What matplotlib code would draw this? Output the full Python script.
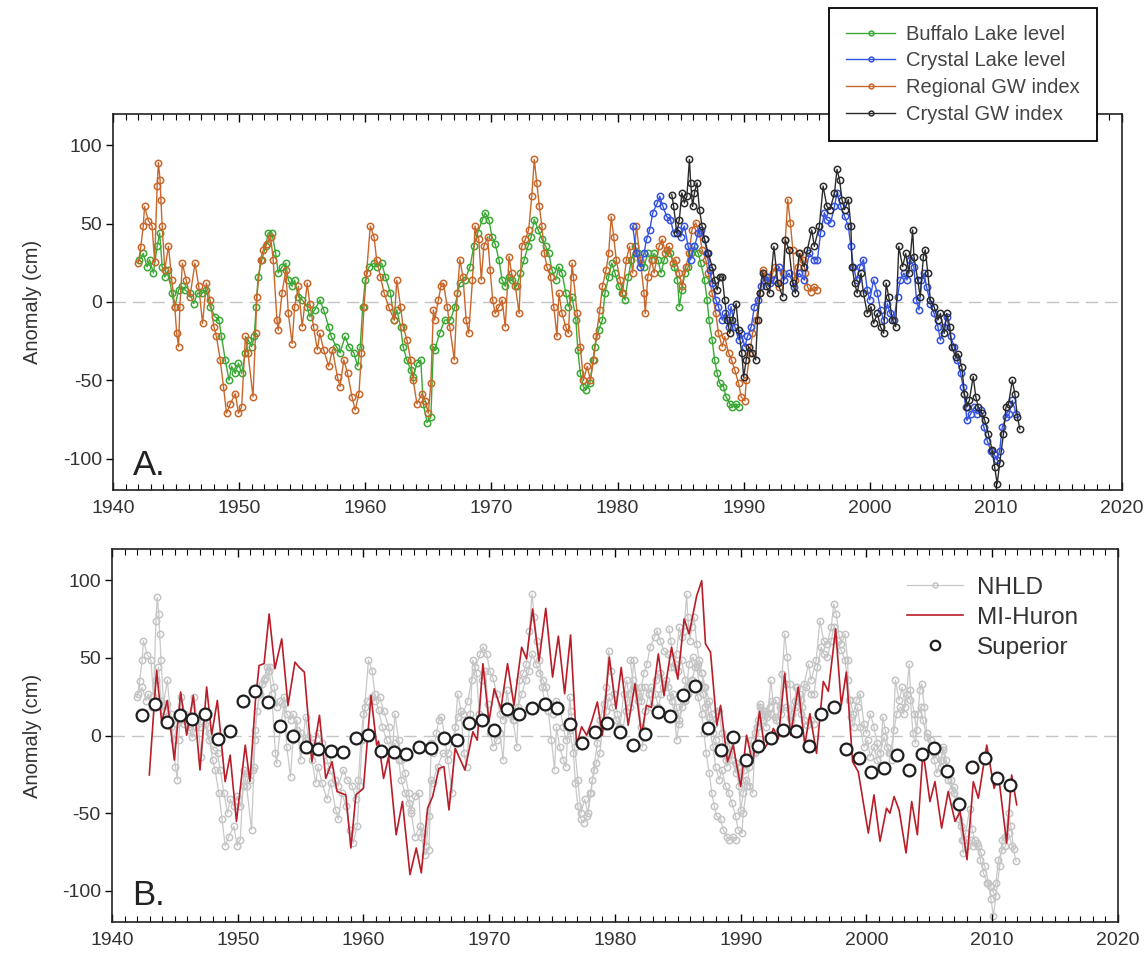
import numpy as np
import matplotlib
matplotlib.use("Agg")
import matplotlib.pyplot as plt
from matplotlib.ticker import MultipleLocator

plt.rcParams['font.family'] = ['Liberation Sans', 'DejaVu Sans']
plt.rcParams['axes.unicode_minus'] = False

# --- panel A series (cm anomaly) ---
buffalo_yr = [1942.1, 1942.4, 1942.7, 1942.9, 1943.2, 1943.5, 1943.7, 1943.9, 1944.1, 1944.4, 1944.66, 1944.9,
              1945.2, 1945.45, 1945.7, 1946.1, 1946.4, 1946.7, 1947.04, 1947.4, 1947.7, 1948.1, 1948.4, 1948.6,
              1948.9, 1949.2, 1949.4, 1949.7, 1949.95, 1950.2, 1950.5, 1950.7, 1951.0, 1951.2, 1951.35, 1951.5,
              1951.8, 1952.1, 1952.3, 1952.6, 1952.9, 1953.1, 1953.4, 1953.7, 1953.9, 1954.2, 1954.4, 1954.7,
              1955.0, 1955.4, 1955.6, 1956.0, 1956.4, 1956.7, 1957.1, 1957.3, 1957.7, 1958.0, 1958.4, 1958.7,
              1959.1, 1959.4, 1959.6, 1959.8, 1960.0, 1960.3, 1960.7, 1960.9, 1961.3, 1961.6, 1962.0, 1962.3,
              1962.5, 1962.8, 1963.0, 1963.3, 1963.6, 1963.8, 1964.1, 1964.4, 1964.6, 1964.9, 1965.2, 1965.4,
              1965.5, 1965.9, 1966.3, 1966.75, 1967.1, 1967.5, 1967.9, 1968.3, 1968.6, 1968.9, 1969.3, 1969.5,
              1969.8, 1970.05, 1970.3, 1970.6, 1970.85, 1971.1, 1971.4, 1971.6, 1972.0, 1972.3, 1972.6, 1972.9,
              1973.15, 1973.4, 1973.7, 1974.0, 1974.3, 1974.55, 1974.8, 1975.1, 1975.35, 1975.6, 1975.9, 1976.1,
              1976.4, 1976.7, 1976.85, 1977.05, 1977.3, 1977.5, 1977.8, 1978.05, 1978.2, 1978.5, 1978.8, 1979.0,
              1979.3, 1979.55, 1979.8, 1980.1, 1980.35, 1980.6, 1980.85, 1981.1, 1981.4, 1981.6, 1981.9, 1982.1,
              1982.4, 1982.7, 1982.9, 1983.2, 1983.45, 1983.7, 1983.96, 1984.2, 1984.5, 1984.75, 1984.9, 1985.1,
              1985.35, 1985.6, 1985.85, 1986.1, 1986.4, 1986.6, 1986.9, 1987.1, 1987.25, 1987.5, 1987.7, 1987.9,
              1988.1, 1988.4, 1988.6, 1988.9, 1989.1, 1989.4, 1989.6]
buffalo_cm = [27, 31, 22.4, 27, 18.5, 35.5, 44, 22.4, 16, 20.5, 5.6, -3,
              7.7, 10, 7.7, 5.6, -1, 5.6, 5.6, 7.7, -3, -9.4, -11.5, -22,
              -37, -50, -41, -45.6, -39, -45.6, -32.5, -24, -28.5, -22, -3, 16,
              27, 35.5, 44, 44, 31, 18.5, 22.4, 24.8, 14, 10, 14, 3.4,
              1.3, -3, -9.4, -5, 1.3, -5, -15.8, -22, -28.5, -32.5, -22, -28.5,
              -32.5, -41, -28.5, -3, 14, 22.4, 24.8, 22.4, 24.8, 16, 5.6, -11.5,
              -5, -15.8, -28.5, -37, -43.4, -48, -39, -37, -65, -77, -73.5, -28.5,
              -30.5, -20, -11.5, -11.5, -3, 12, 14, 22.4, 35.5, 44, 52.6, 57,
              52.6, 41.5, 37, 27, 14, 10, 16, 14, 10, 18.5, 27, 35.5,
              41.5, 52.6, 46.2, 40, 35.5, 31, 20.5, 14, 22.4, 18.5, 5.6, -3,
              3.4, -11.5, -30.5, -45.6, -54, -56, -52, -37, -28.5, -18, -11.5, 5.6,
              16, 24.8, 18.5, 10, 5.6, 1.3, 16, 27, 35.5, 31, 24.8, 22.4,
              31, 27, 31, 27, 18.5, 27, 33.3, 31, 22.4, 14, -3, 7.7,
              18.5, 22.4, 31, 35.5, 31, 24.8, 14, 1.3, -11.5, -24, -37, -45.6,
              -52, -54, -60.5, -65, -67, -65, -67]

regional_yr = [1942.0, 1942.2, 1942.4, 1942.5, 1942.8, 1943.1, 1943.3, 1943.5, 1943.6, 1943.73, 1943.8, 1943.9,
               1944.1, 1944.4, 1944.66, 1944.9, 1945.05, 1945.2, 1945.3, 1945.5, 1945.8, 1946.1, 1946.5, 1946.8,
               1947.1, 1947.4, 1947.7, 1948.0, 1948.2, 1948.5, 1948.76, 1949.0, 1949.3, 1949.7, 1949.95, 1950.2,
               1950.5, 1950.7, 1951.1, 1951.3, 1951.4, 1951.7, 1951.9, 1952.2, 1952.5, 1952.7, 1953.0, 1953.1,
               1953.4, 1953.7, 1953.9, 1954.2, 1954.4, 1954.7, 1955.0, 1955.4, 1955.6, 1955.9, 1956.2, 1956.4,
               1956.7, 1957.1, 1957.4, 1957.8, 1958.0, 1958.3, 1958.6, 1958.95, 1959.2, 1959.5, 1959.7, 1959.9,
               1960.1, 1960.4, 1960.7, 1960.9, 1961.2, 1961.5, 1961.85, 1962.3, 1962.5, 1962.8, 1963.0, 1963.3,
               1963.6, 1963.8, 1964.1, 1964.5, 1964.76, 1965.0, 1965.2, 1965.4, 1965.5, 1965.8, 1966.0, 1966.2,
               1966.5, 1966.7, 1967.06, 1967.3, 1967.5, 1967.75, 1968.0, 1968.2, 1968.5, 1968.7, 1969.0, 1969.2,
               1969.4, 1969.7, 1969.9, 1970.1, 1970.3, 1970.6, 1970.85, 1971.1, 1971.4, 1971.6, 1971.9, 1972.2,
               1972.4, 1972.7, 1972.96, 1973.2, 1973.4, 1973.6, 1973.8, 1974.0, 1974.2, 1974.4, 1974.7, 1974.95,
               1975.2, 1975.35, 1975.6, 1975.9, 1976.1, 1976.4, 1976.5, 1976.8, 1977.05, 1977.3, 1977.6, 1977.85,
               1978.1, 1978.3, 1978.6, 1978.8, 1979.1, 1979.3, 1979.5, 1979.7, 1979.9, 1980.2, 1980.4, 1980.7,
               1980.95, 1981.2, 1981.5, 1981.8, 1982.1, 1982.2, 1982.4, 1982.7, 1982.9, 1983.3, 1983.55, 1983.8,
               1984.1, 1984.4, 1984.6, 1984.9, 1985.1, 1985.4, 1985.7, 1985.9, 1986.2, 1986.5, 1986.7, 1987.0,
               1987.2, 1987.5, 1987.8, 1988.0, 1988.3, 1988.5, 1988.8, 1989.04, 1989.3, 1989.6, 1989.8, 1990.1,
               1990.2, 1990.5, 1990.7, 1991.0, 1991.3, 1991.5, 1991.8, 1992.1, 1992.3, 1992.5, 1992.8, 1993.1,
               1993.3, 1993.5, 1993.7, 1993.9, 1994.05, 1994.3, 1994.5, 1994.7, 1994.9, 1995.05, 1995.3, 1995.6,
               1995.8]
regional_cm = [24.8, 35, 48.5, 61, 52, 48.5, 25.6, 73.9, 89, 78, 65, 48.5,
               20.5, 35.5, 14, -3, -20, -28.5, -3, 24.8, 14, 3.4, 24.8, 10,
               -13.7, 12, 1.3, -15.8, -22, -37, -54, -71, -65, -58.5, -71, -67,
               -22, -32.5, -60.5, -20, 3.4, 27, 33, 37, 41.5, 27, -11.5, -18,
               5.6, 20.5, -7.3, -26.5, -3, 10, -15.8, 12, -1, -15.8, -30.5, -20,
               -30.5, -41, -30.5, -48, -54, -37, -45.6, -60.5, -69, -58.5, -32.5, -3,
               18.5, 48.5, 41.5, 27, 16.2, 5.6, -3, -11.5, 14, -3, -15.8, -24,
               -37, -50, -65, -58.5, -63, -71, -52, -5, -11.5, 1.3, 10, 12,
               -3, -15.8, -37, 5.6, 27, 16, -11.5, -20, 14, 48.5, 40, 14,
               35.5, 41.5, 20.5, 1.3, -7.3, -3, 1.3, -15.8, 29, 18.5, 10, -7.3,
               35.5, 40, 46.2, 67.5, 91, 76, 61, 48.5, 31, 22.4, 16, -3,
               -22, 5.6, -7.3, -15.8, -20, 24.8, 16, -7.3, -28.5, -50, -41, -50,
               -37, -22, -5, 10, 20.5, 31, 54.5, 41.5, 27, 14, 5.6, 27,
               35.5, 18.5, 48.5, 27, 5.6, -7.3, 16, 27, 18.5, 35.5, 40, 31,
               35.5, 24.8, 27, 18.5, 10, 22.4, 31, 46.2, 50.5, 44, 33.3, 27,
               18.5, 5.6, -7.3, -20, -28.5, -22, -32.5, -37, -43.4, -52, -60.5, -63,
               -50, -32.5, -20, -11.5, 5.6, 20.5, 16, 14, 18.5, 22.4, 9.8, 18.5,
               39.7, 65.4, 50.4, 33.3, 14, 22.4, 31, 27, 18.5, 9.8, 6.6, 9.8,
               7.7]

crystal_lake_yr = [1981.2, 1981.5, 1981.8, 1982.1, 1982.3, 1982.55, 1982.8, 1983.15, 1983.35, 1983.6, 1983.9, 1984.2,
                   1984.45, 1984.8, 1985.0, 1985.3, 1985.6, 1985.8, 1986.1, 1986.4, 1986.6, 1986.9, 1987.1, 1987.3,
                   1987.5, 1987.8, 1988.0, 1988.3, 1988.55, 1988.8, 1989.0, 1989.3, 1989.6, 1989.8, 1990.1, 1990.3,
                   1990.6, 1990.85, 1991.1, 1991.35, 1991.6, 1991.9, 1992.1, 1992.4, 1992.8, 1993.2, 1993.6, 1994.0,
                   1994.4, 1994.8, 1995.2, 1995.6, 1995.85, 1996.1, 1996.4, 1996.6, 1996.9, 1997.2, 1997.4, 1997.7,
                   1998.0, 1998.3, 1998.5, 1998.7, 1998.96, 1999.2, 1999.5, 1999.8, 2000.0, 2000.3, 2000.6, 2000.85,
                   2001.1, 2001.4, 2001.6, 2001.9, 2002.2, 2002.4, 2002.7, 2002.96, 2003.2, 2003.5, 2003.7, 2003.9,
                   2004.1, 2004.3, 2004.5, 2004.8, 2005.1, 2005.4, 2005.6, 2005.9, 2006.1, 2006.4, 2006.7, 2006.95,
                   2007.2, 2007.4, 2007.6, 2007.7, 2008.0, 2008.3, 2008.5, 2008.8, 2009.05, 2009.3, 2009.6, 2009.85,
                   2010.1, 2010.3, 2010.5, 2010.8, 2011.05, 2011.3, 2011.6]
crystal_lake_cm = [48.5, 31, 22.4, 31, 40, 46.2, 57, 63.2, 67.5, 61, 54.5, 52.6,
                   44, 46.2, 41.5, 48.5, 35.5, 27, 35.5, 44, 46.2, 40, 31, 20.5,
                   12, 1.3, -3, -11.5, -7.3, -15.8, -3, -15.8, -24, -20, -28.5, -22,
                   -15.8, -3, 1.3, 10, 14, 16, 12, 14, 22.6, 14, 18.4, 9.8,
                   18.4, 14, 31, 27, 27, 44, 57, 52.6, 50.6, 61, 69.6, 61,
                   54.7, 48.4, 35.5, 22.6, 14, 22.6, 27, 7.7, 1.3, 14, 5.6, -5,
                   -11.5, -1, -7.3, -11.5, 3.4, 14, 18.4, 14, 27, 22.6, 1.3, -5,
                   14, 18.4, 9.8, -1, -7.3, -15.8, -24.3, -15.8, -9.4, -22, -28.6, -37,
                   -45.6, -54, -67, -75.6, -71.4, -67, -71.4, -69.2, -80, -88.4, -94.8, -97,
                   -101, -94.8, -80, -73.7, -71.4, -62.8, -71.4]

crystal_gw_yr = [1984.3, 1984.45, 1984.7, 1984.9, 1985.1, 1985.3, 1985.5, 1985.7, 1985.8, 1985.95, 1986.1, 1986.3,
                 1986.5, 1986.7, 1986.9, 1987.2, 1987.5, 1987.7, 1987.9, 1988.1, 1988.3, 1988.5, 1988.7, 1988.9,
                 1989.1, 1989.4, 1989.6, 1989.85, 1990.0, 1990.2, 1990.4, 1990.7, 1990.95, 1991.1, 1991.3, 1991.5,
                 1991.8, 1992.05, 1992.4, 1992.7, 1993.1, 1993.3, 1993.6, 1993.9, 1994.1, 1994.4, 1994.8, 1995.05,
                 1995.4, 1995.6, 1996.0, 1996.3, 1996.6, 1996.85, 1997.2, 1997.4, 1997.6, 1997.8, 1998.0, 1998.3,
                 1998.5, 1998.6, 1998.8, 1999.0, 1999.3, 1999.5, 1999.8, 2000.1, 2000.3, 2000.6, 2000.85, 2001.1,
                 2001.3, 2001.5, 2001.8, 2002.05, 2002.3, 2002.6, 2002.85, 2003.1, 2003.4, 2003.5, 2003.8, 2004.0,
                 2004.25, 2004.4, 2004.6, 2004.8, 2005.1, 2005.4, 2005.6, 2005.9, 2006.1, 2006.35, 2006.5, 2006.8,
                 2007.0, 2007.3, 2007.5, 2007.7, 2007.9, 2008.2, 2008.4, 2008.6, 2008.9, 2009.1, 2009.4, 2009.7,
                 2009.9, 2010.1, 2010.3, 2010.6, 2010.8, 2011.0, 2011.3, 2011.5, 2011.7, 2011.9]
crystal_gw_cm = [68.6, 61, 44, 52.6, 69.6, 63.2, 67.5, 91, 76, 61, 69.6, 76,
                 59, 48.5, 40, 31, 22.4, 14, 7.7, 16, 16, 1.3, -11.5, -20,
                 -11.5, -1, -18, -32.5, -48, -37, -28.5, -32.5, -37, -11.5, 5.6, 18.5,
                 10, 5.6, 35.5, 12, 3.4, 39.7, 33.3, 12, 5.6, 31, 22.6, 33.3,
                 46, 35.5, 48.4, 74, 61, 59, 69.6, 84.6, 78, 65.4, 59, 65.4,
                 48.4, 22.6, 12, 5.6, 18.4, 5.6, -7.3, -3, -13.7, -7.3, -15.8, -20,
                 12, 3.4, -11.5, -15.8, 35.5, 22.6, 31, 18.4, 46, 29, 14, 3.4,
                 29, 33.3, 18.4, 1.3, -3, -11.5, -7.3, -20, -7.3, -15.8, -28.6, -35,
                 -33, -41.5, -58.5, -67, -62.6, -47.6, -60.4, -67, -71, -75.2, -84, -94.6,
                 -105.3, -116, -103, -84, -67, -65, -50, -58.5, -73.3, -81]

# --- panel B ---
huron_yr = [1942.97, 1943.55, 1943.95, 1944.4, 1944.96, 1945.46, 1945.94, 1946.47, 1947.0, 1947.53, 1947.93, 1948.38,
            1949.0, 1949.4, 1949.9, 1950.6, 1950.97, 1951.4, 1951.7, 1952.1, 1952.5, 1952.96, 1953.5, 1954.0,
            1954.55, 1954.9, 1955.3, 1955.9, 1956.5, 1957.0, 1957.5, 1957.9, 1958.6, 1959.0, 1959.4, 1960.0,
            1960.6, 1961.05, 1961.2, 1961.6, 1962.0, 1962.6, 1963.1, 1963.7, 1964.2, 1964.6, 1965.1, 1965.5,
            1966.0, 1966.4, 1966.8, 1967.3, 1968.07, 1968.7, 1969.05, 1969.5, 1969.98, 1970.4, 1970.93, 1971.46,
            1971.97, 1972.58, 1972.97, 1973.45, 1973.96, 1974.5, 1975.04, 1975.5, 1976.0, 1976.47, 1976.95, 1977.35,
            1977.75, 1978.14, 1978.6, 1979.0, 1979.55, 1980.08, 1980.5, 1981.05, 1981.6, 1982.12, 1982.5, 1982.9,
            1983.45, 1983.9, 1984.5, 1985.0, 1985.5, 1985.9, 1986.5, 1986.9, 1987.2, 1987.6, 1988.1, 1988.4,
            1988.95, 1989.4, 1990.0, 1990.47, 1990.95, 1991.5, 1991.9, 1992.3, 1992.6, 1993.0, 1993.5, 1993.97,
            1994.58, 1995.1, 1995.5, 1996.03, 1996.57, 1996.97, 1997.55, 1998.0, 1998.4, 1998.9, 1999.35, 2000.15,
            2000.6, 2001.08, 2001.6, 2001.87, 2002.2, 2002.6, 2003.15, 2003.6, 2004.05, 2004.5, 2005.05, 2005.45,
            2005.98, 2006.5, 2007.05, 2007.45, 2008.0, 2008.5, 2008.9, 2009.57, 2010.15, 2010.5, 2011.15, 2011.55,
            2011.95]
huron_cm = [-25.4, 41.9, 8.8, 22.6, -15.8, 28, 0.2, 25.8, -22.2, 31.2, 0.6, 22.6,
            -29.7, -12.6, -55.3, -6.2, -29.7, 21.6, 45, 46.3, 78.2, 43, 62.2, 19.4,
            47.2, 43.8, 40.8, -16.9, 13, -27.6, -16.9, -36.1, -38.2, -72.4, -38.2, -34,
            25.8, -6.2, -3.6, -27.6, -13.5, -63.9, -42.5, -89.5, -72.4, -88.4, -46.8, -39.3,
            -21.2, -20, -47.9, -8.3, -22.2, 2.4, -3, 46.2, 8.8, 30.1, 17.3, 46.2,
            19.4, 56.8, 49.4, 81.4, 47.9, 81.8, 37.6, 63.9, 26.9, 64.7, -6.2, 5.6,
            0.2, 8.8, 21.6, 0.2, 50.4, 17.3, 43.8, 6.6, 33.3, 0.2, 19.4, 18,
            52.5, 25.8, 56.8, 36.3, 75, 65.4, 89.9, 99.6, 59, 53.6, 6.6, 19.4,
            -16.9, -6.2, -32.9, 0.2, -17.9, 15.4, -8.3, -3, 4.5, -2, 40, 0.2,
            31.2, -6.2, 14.1, -11.5, 34.8, 28.4, 68.6, 19.4, 40.8, -16.9, -23.3, -62.8,
            -38.2, -68.1, -46.8, -50, -39.3, -48, -75.6, -42.5, -63.9, -10, -42.5, -29.7,
            -59.6, -36.1, -55.3, -48.9, -79.9, -29.7, -40.4, -6.2, -34, -25.4, -69.2, -25.4,
            -44.6]

superior_yr = np.arange(1942, 2012) + 0.4
superior_cm = [13, 20, 9, 13, 10.5, 13.7, -2.4, 3.2, 22, 28.6,
               21.4, 6.4, 0, -7.7, -9, -9.8, -10.7, -1.3, 0.2, -10,
               -10.7, -12.2, -7.3, -7.9, -1.3, -3, 7.9, 9.8, 3.6, 16.9,
               13.9, 17.9, 20.1, 17.7, 7.3, -4.7, 2.3, 8.3, 2.1, -5.8,
               0.8, 15.4, 12.6, 26.1, 32, 5.1, -9.4, -0.8, -15.8, -7,
               -1.4, 3.4, 2.8, -6.8, 13.7, 18.2, -8.8, -14.7, -23.7, -21.2,
               -12.6, -22.2, -12, -8.3, -22.6, -44, -20.1, -14.7, -27.1, -32]

c_green = '#3aa935'
c_blue = '#3552e0'
c_orange = '#c9662a'
c_black = '#2b2b2b'
c_grey = '#c8c8c8'
c_red = '#b81d28'
txt = '#333333'

fig = plt.figure(figsize=(11.46, 9.61), dpi=100)
ax_a = fig.add_axes([0.0986, 0.4901, 0.8805, 0.3913])
ax_b = fig.add_axes([0.0977, 0.0406, 0.8778, 0.3881])


def style(ax):
    ax.set_xlim(1940, 2020)
    ax.set_ylim(-120, 120)
    ax.axhline(0, color='#c4c4c4', lw=1.0, ls=(0, (9, 5)), zorder=0)
    ax.xaxis.set_major_locator(MultipleLocator(10))
    ax.xaxis.set_minor_locator(MultipleLocator(1))
    ax.yaxis.set_major_locator(MultipleLocator(50))
    ax.tick_params(axis='x', which='major', direction='in', top=True, bottom=True,
                   length=6, width=1, labelsize=14, labelcolor=txt, pad=7)
    ax.tick_params(axis='x', which='minor', direction='in', top=True, bottom=True, length=4, width=0.8)
    ax.tick_params(axis='y', which='major', direction='out', left=True, right=False,
                   length=5, width=1, labelsize=14, labelcolor=txt, pad=3)
    for s in ax.spines.values():
        s.set_color('#222222')
        s.set_linewidth(1.2)
    ax.set_ylabel('Anomaly (cm)', fontsize=14.5, color=txt)
    ax.yaxis.set_label_coords(-0.07, 0.5)


style(ax_a)
style(ax_b)

kw = dict(marker='o', ms=4.6, mfc='none', mew=1.1, lw=1.0)
l_buf, = ax_a.plot(buffalo_yr, buffalo_cm, color=c_green, label='Buffalo Lake level', **kw)
l_reg, = ax_a.plot(regional_yr, regional_cm, color=c_orange, label='Regional GW index', **kw)
l_cl, = ax_a.plot(crystal_lake_yr, crystal_lake_cm, color=c_blue, label='Crystal Lake level', **kw)
l_cgw, = ax_a.plot(crystal_gw_yr, crystal_gw_cm, color=c_black, label='Crystal GW index', **kw)

ax_a.text(0.02, 0.04, 'A.', transform=ax_a.transAxes, fontsize=25, color='#222222', va='baseline')

leg_a = fig.legend([l_buf, l_cl, l_reg, l_cgw],
                   ['Buffalo Lake level', 'Crystal Lake level', 'Regional GW index', 'Crystal GW index'],
                   loc='upper right', bbox_to_anchor=(0.957, 0.992), numpoints=1, fontsize=14.5,
                   frameon=True, fancybox=False, edgecolor='black', framealpha=1, markerscale=0.75,
                   handlelength=2.4, handletextpad=0.55, borderpad=0.85, labelspacing=0.38, borderaxespad=0)
leg_a.get_frame().set_linewidth(1.3)
for t in leg_a.get_texts():
    t.set_color('#444444')

# NHLD = all the lake / groundwater records in grey
gkw = dict(color=c_grey, marker='o', ms=4.6, mfc='none', mec='#c4c4c4', mew=1.1, lw=0.9, zorder=1)
l_nhld, = ax_b.plot(buffalo_yr, buffalo_cm, label='NHLD', **gkw)
ax_b.plot(regional_yr, regional_cm, **gkw)
ax_b.plot(crystal_lake_yr, crystal_lake_cm, **gkw)
ax_b.plot(crystal_gw_yr, crystal_gw_cm, **gkw)
l_hur, = ax_b.plot(huron_yr, huron_cm, color=c_red, lw=1.2, label='MI-Huron', zorder=2)
l_sup, = ax_b.plot(superior_yr, superior_cm, 'o', ms=8.5, mfc='white', mec='#1e1e1e', mew=1.6,
                   label='Superior', zorder=3)

ax_b.text(0.02, 0.045, 'B.', transform=ax_b.transAxes, fontsize=25, color='#222222', va='baseline')

leg_b = ax_b.legend(handles=[l_nhld, l_hur, l_sup], loc='upper left', bbox_to_anchor=(0.79, 0.925),
                    frameon=False, fontsize=17.5, numpoints=1, handlelength=2.3, handletextpad=0.6,
                    labelspacing=0.32, borderpad=0, borderaxespad=0, markerscale=0.8)
for t in leg_b.get_texts():
    t.set_color(txt)

fig.savefig('out.png', dpi=100)
